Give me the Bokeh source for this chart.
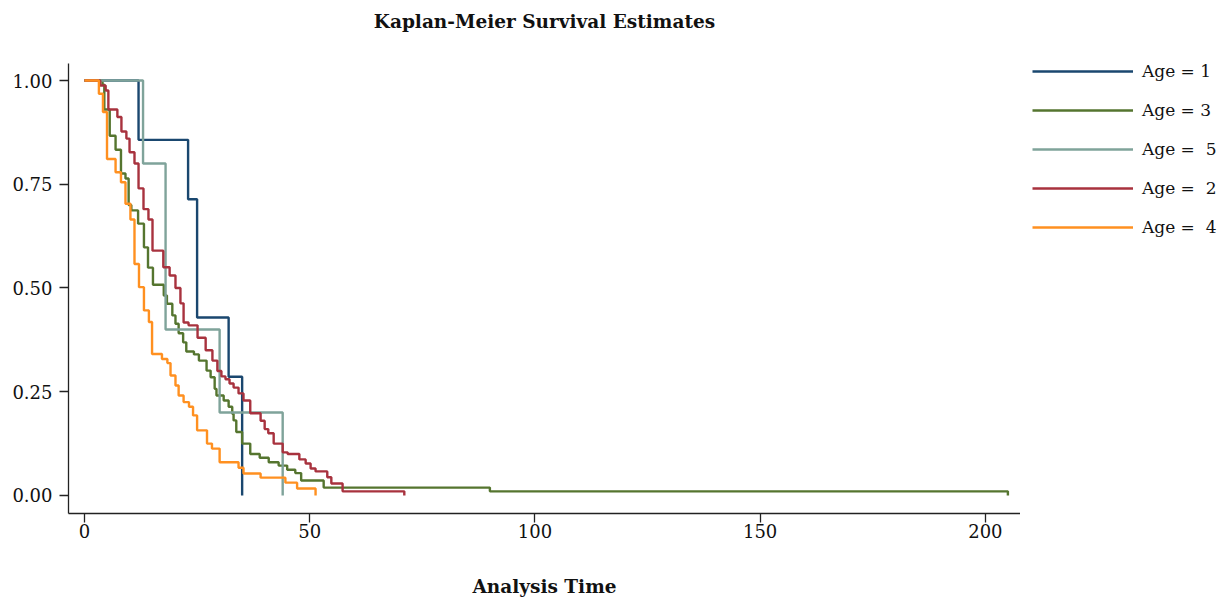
from bokeh.plotting import figure
from bokeh.layouts import row
from bokeh.models import Legend, LegendItem, FixedTicker, NumeralTickFormatter, Range1d
from bokeh.embed import file_html
from bokeh.resources import INLINE

# ---- data ----
labels = ["Age = 1", "Age = 3", "Age =\u00a0 5", "Age =\u00a0 2", "Age =\u00a0 4"]
colors = ["#1a476f", "#55752f", "#7fa39a", "#a8323e", "#ff9020"]

age1_t = [0, 12, 23, 25, 32, 35]
age1_s = [1.0, 0.857, 0.714, 0.429, 0.286, 0.0]

age3_t = [0, 4.0, 4.4, 5.6, 6.9, 8.1, 9.1, 9.8, 10.4, 11.9, 13.2, 14.1, 15.2, 17.6,
          18.3, 19.5, 20.2, 20.9, 21.9, 22.6, 24.3, 25.4, 27.1, 28.0, 28.9, 29.3,
          30.9, 32.0, 32.8, 33.1, 33.7, 35.0, 36.8, 38.9, 40.9, 43.1, 45.0, 46.8,
          48.1, 53.1, 90, 205]
age3_s = [1.0, 0.99, 0.93, 0.867, 0.833, 0.776, 0.764, 0.70, 0.687, 0.655, 0.598, 0.549,
          0.508, 0.482, 0.462, 0.434, 0.414, 0.391, 0.369, 0.347, 0.340, 0.325, 0.301,
          0.285, 0.257, 0.241, 0.229, 0.214, 0.197, 0.181, 0.153, 0.125, 0.100, 0.091,
          0.080, 0.072, 0.062, 0.054, 0.036, 0.019, 0.010, 0.0]

age5_t = [0, 13, 18, 30, 44]
age5_s = [1.0, 0.8, 0.4, 0.2, 0.0]

age2_t = [0, 3.5, 4.7, 5.3, 7.3, 8.2, 9.3, 10.0, 11.1, 12.0, 13.1, 14.2, 15.1, 17.5,
          18.9, 20.2, 21.3, 22.0, 23.1, 25.1, 26.9, 28.4, 29.5, 30.4, 31.3, 32.2,
          33.1, 34.2, 35.3, 36.8, 39.1, 40.0, 40.8, 42.0, 44.0, 45.1, 47.7, 49.1,
          50.2, 51.3, 53.9, 54.8, 57.3, 71]
age2_s = [1.0, 0.988, 0.976, 0.930, 0.912, 0.877, 0.860, 0.827, 0.800, 0.740, 0.690,
          0.665, 0.590, 0.550, 0.530, 0.500, 0.463, 0.417, 0.410, 0.380, 0.350, 0.325,
          0.300, 0.287, 0.280, 0.270, 0.260, 0.246, 0.229, 0.198, 0.180, 0.160, 0.150,
          0.125, 0.104, 0.100, 0.087, 0.077, 0.065, 0.058, 0.044, 0.029, 0.010, 0.0]

age4_t = [0, 3.2, 4.1, 5.0, 6.9, 8.1, 9.1, 10.2, 11.1, 12.1, 13.2, 14.3, 15.0, 17.2,
          18.4, 19.1, 20.2, 20.9, 22.0, 23.2, 24.1, 25.0, 27.2, 28.3, 30.0, 34.2,
          35.3, 39.1, 44.6, 47.2, 51.3]
age4_s = [1.0, 0.968, 0.924, 0.811, 0.779, 0.755, 0.703, 0.665, 0.558, 0.502, 0.446,
          0.418, 0.341, 0.329, 0.319, 0.289, 0.265, 0.241, 0.225, 0.214, 0.193, 0.157,
          0.125, 0.113, 0.080, 0.067, 0.053, 0.043, 0.031, 0.017, 0.0]

series_t = [age1_t, age3_t, age5_t, age2_t, age4_t]
series_s = [age1_s, age3_s, age5_s, age2_s, age4_s]

x_ticks = [0, 50, 100, 150, 200]
y_ticks = [0, 0.25, 0.5, 0.75, 1.0]

SERIF = "DejaVu Serif"
LW = 2.4

# ---- main chart ----
p = figure(width=1020, height=599, output_backend="svg", toolbar_location=None,
           x_range=Range1d(-3.55, 207.8), y_range=Range1d(-0.0434, 1.0964),
           min_border_left=68, min_border_right=0, min_border_top=40,
           min_border_bottom=86)

p.title.text = "Kaplan-Meier Survival Estimates"
p.title.align = "center"
p.title.text_font = SERIF
p.title.text_font_style = "bold"
p.title.text_font_size = "18.5px"
p.title.text_color = "#111111"
p.title.standoff = 17

p.outline_line_color = None
p.xgrid.visible = False
p.ygrid.visible = False
p.background_fill_color = "white"

for ax in (p.xaxis[0], p.yaxis[0]):
    ax.axis_line_color = "#222222"
    ax.axis_line_width = 1.3
    ax.major_tick_line_color = "#222222"
    ax.major_tick_line_width = 1.3
    ax.major_tick_out = 9
    ax.major_tick_in = 0
    ax.minor_tick_out = 0
    ax.minor_tick_in = 0
    ax.major_label_text_font = SERIF
    ax.major_label_text_font_size = "18px"
    ax.major_label_text_color = "#111111"

p.yaxis.bounds = (-0.0434, 1.041)
p.xaxis.ticker = FixedTicker(ticks=x_ticks)
p.yaxis.ticker = FixedTicker(ticks=y_ticks)
p.yaxis.formatter = NumeralTickFormatter(format="0.00")
p.xaxis.major_label_standoff = 1
p.yaxis.major_label_standoff = 7

p.xaxis.axis_label = "Analysis Time"
p.xaxis.axis_label_text_font = SERIF
p.xaxis.axis_label_text_font_style = "bold"
p.xaxis.axis_label_text_font_size = "18.5px"
p.xaxis.axis_label_text_color = "#111111"
p.xaxis.axis_label_standoff = 35

for t, s, c in zip(series_t, series_s, colors):
    p.step(x=t, y=s, mode="after", line_color=c, line_width=LW)

# ---- legend panel (key glyphs only; single start point, nothing visible) ----
pl = figure(width=201, height=599, output_backend="svg", toolbar_location=None,
            x_axis_type=None, y_axis_type=None, min_border=0,
            x_range=Range1d(0, 1), y_range=Range1d(0, 1))
pl.outline_line_color = None
pl.xgrid.visible = False
pl.ygrid.visible = False

items = []
for t, s, c, lab in zip(series_t, series_s, colors, labels):
    r = pl.step(x=[-1.0], y=[s[0]], mode="after", line_color=c, line_width=LW)
    items.append(LegendItem(label=lab, renderers=[r]))

legend = Legend(items=items, location=(12, 276), margin=0, padding=0,
                border_line_color=None, background_fill_alpha=0,
                glyph_width=101, glyph_height=20, label_height=20,
                label_standoff=9, spacing=19,
                label_text_font=SERIF, label_text_font_size="17px",
                label_text_color="#111111")
pl.add_layout(legend)

layout = row(p, pl)
open("out.html", "w").write(file_html(layout, INLINE))
